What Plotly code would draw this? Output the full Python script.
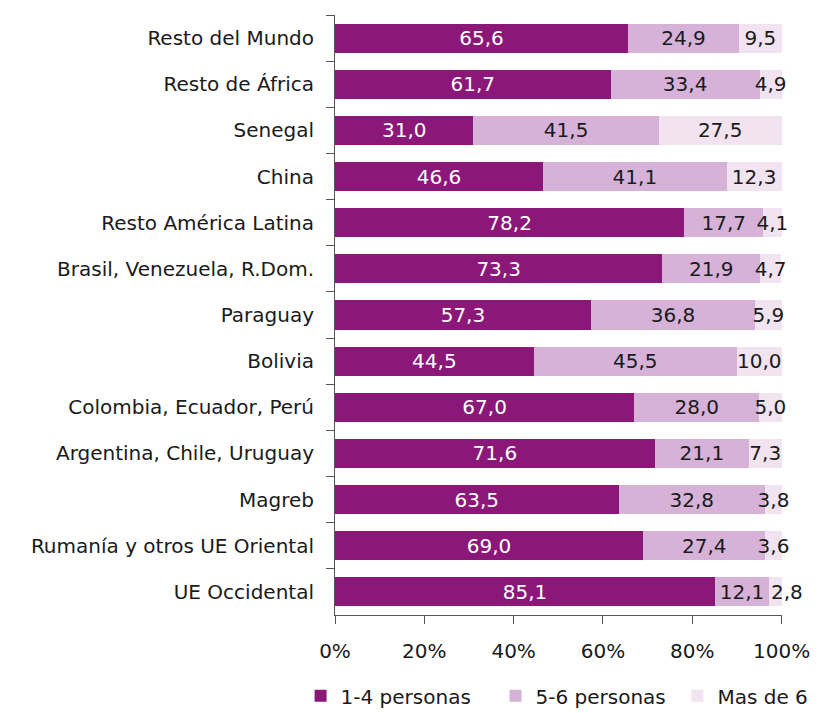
import plotly.graph_objects as go

categories = ["Resto del Mundo", "Resto de África", "Senegal", "China",
              "Resto América Latina", "Brasil, Venezuela, R.Dom.", "Paraguay",
              "Bolivia", "Colombia, Ecuador, Perú", "Argentina, Chile, Uruguay",
              "Magreb", "Rumanía y otros UE Oriental", "UE Occidental"]
s1_4 = [65.6, 61.7, 31.0, 46.6, 78.2, 73.3, 57.3, 44.5, 67.0, 71.6, 63.5, 69.0, 85.1]
s5_6 = [24.9, 33.4, 41.5, 41.1, 17.7, 21.9, 36.8, 45.5, 28.0, 21.1, 32.8, 27.4, 12.1]
s_mas6 = [9.5, 4.9, 27.5, 12.3, 4.1, 4.7, 5.9, 10.0, 5.0, 7.3, 3.8, 3.6, 2.8]
series_names = ["1-4 personas", "5-6 personas", "Mas de 6"]
x_tickvals = [0, 20, 40, 60, 80, 100]
x_ticktext = ["0%", "20%", "40%", "60%", "80%", "100%"]
colors = ["#8B1878", "#D6B2D8", "#F2E3F0"]
text_colors = ["white", "#1a1a1a", "#1a1a1a"]
legend_ids = ["legend", "legend2", "legend3"]
legend_x = [-0.077, 0.359, 0.766]

FONT = "DejaVu Sans"
FS = 20

def fmt(v):
    return f"{v:.1f}".replace(".", ",")

series = [s1_4, s5_6, s_mas6]
fig = go.Figure()
for i, (name, vals, col, tc) in enumerate(zip(series_names, series, colors, text_colors)):
    if i == 2:
        # very small last segments get their label placed by annotation (below)
        txt = ["" if v < 3 else fmt(v) for v in vals]
    else:
        txt = [fmt(v) for v in vals]
    fig.add_trace(go.Bar(
        y=categories, x=vals, name=name, orientation="h",
        marker=dict(color=col, line=dict(width=0)),
        text=txt, textposition="inside",
        insidetextanchor="middle", textangle=0, constraintext="none",
        cliponaxis=False,
        textfont=dict(color=tc, size=FS, family=FONT),
        hoverinfo="skip", legend=legend_ids[i],
    ))

for cat, a, b, c in zip(categories, s1_4, s5_6, s_mas6):
    if c < 3:
        fig.add_annotation(x=a + b, y=cat, xref="x", yref="y", text=fmt(c),
                           showarrow=False, xanchor="left", xshift=0,
                           font=dict(size=FS, family=FONT, color="#1a1a1a"))

leg_common = dict(orientation="h", xanchor="left", y=-0.102, yanchor="top",
                  font=dict(size=FS), bgcolor="rgba(0,0,0,0)")
fig.update_layout(
    barmode="stack", bargap=0.37,
    width=814, height=713,
    margin=dict(l=327, r=40, t=7, b=106, autoexpand=False),
    plot_bgcolor="white", paper_bgcolor="white",
    font=dict(family=FONT, size=FS, color="#1a1a1a"),
    showlegend=True,
    legend=dict(x=legend_x[0], **leg_common),
    legend2=dict(x=legend_x[1], **leg_common),
    legend3=dict(x=legend_x[2], **leg_common),
    xaxis=dict(range=[0, 100.1], tickvals=x_tickvals, ticktext=x_ticktext,
               showgrid=False, zeroline=False, showline=True, linecolor="#555",
               ticks="outside", ticklen=8, tickcolor="#555", ticklabelstandoff=10),
    yaxis=dict(autorange="reversed", showgrid=False, showline=True, linecolor="#555",
               ticks="outside", ticklen=8, tickcolor="#555", tickson="boundaries",
               ticklabelstandoff=16),
)
fig.write_html("out.html")
